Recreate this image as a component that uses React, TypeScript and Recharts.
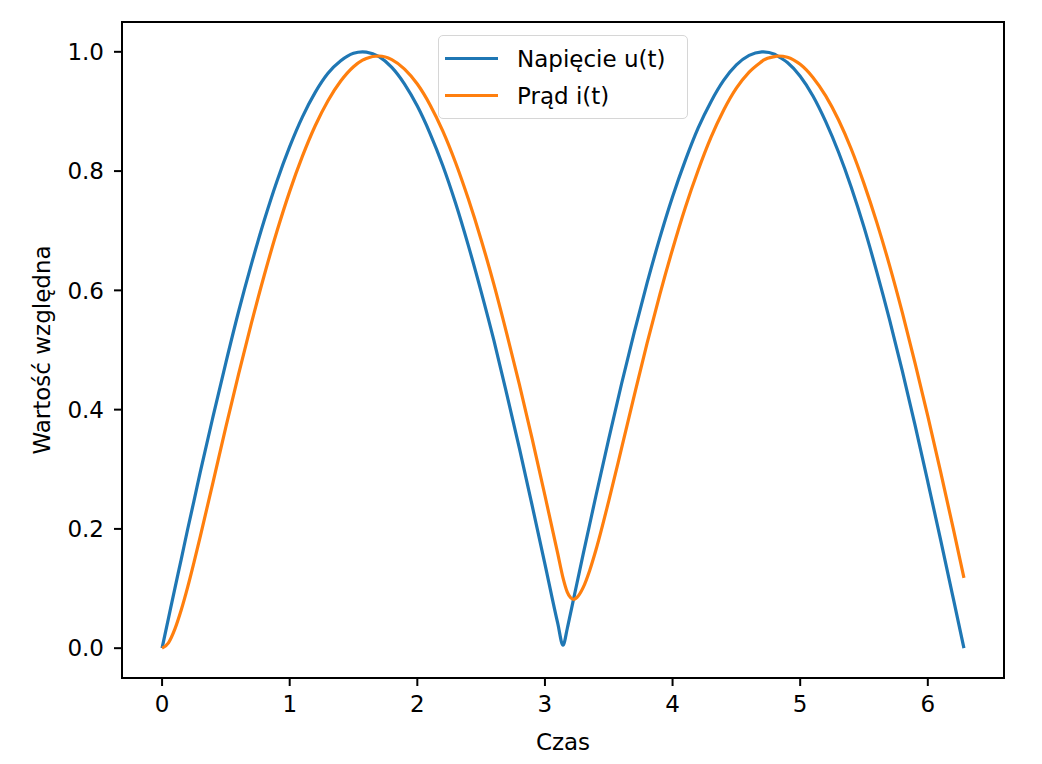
import { LineChart, Line, XAxis, YAxis, Legend, ReferenceArea } from 'recharts';

const times = [
  0, 0.05, 0.1, 0.15, 0.2, 0.25, 0.3,
  0.4, 0.5, 0.6, 0.7, 0.8, 0.9, 1.0, 1.1, 1.2, 1.3, 1.4, 1.5, 1.5708, 1.6, 1.7,
  1.8, 1.9, 2.0, 2.1, 2.2, 2.3, 2.4, 2.5, 2.6, 2.7, 2.8, 2.9, 3.0, 3.1,
  3.1416, 3.175, 3.2, 3.225, 3.25, 3.3, 3.35, 3.4,
  3.5, 3.6, 3.7, 3.8, 3.9, 4.0, 4.1, 4.2, 4.3, 4.4, 4.5, 4.6, 4.7, 4.7124, 4.8, 4.83,
  4.9, 5.0, 5.1, 5.2, 5.3, 5.4, 5.5, 5.6, 5.7, 5.8, 5.9, 6.0, 6.1, 6.2,
  6.2832,
];

const voltage = [
  0, 0.05, 0.1, 0.149, 0.199, 0.247, 0.296,
  0.389, 0.479, 0.565, 0.644, 0.717, 0.783, 0.841, 0.891, 0.932, 0.964, 0.985, 0.9975, 1.0, 0.9996, 0.992,
  0.974, 0.946, 0.909, 0.863, 0.809, 0.746, 0.675, 0.598, 0.516, 0.427, 0.335, 0.239, 0.141, 0.042,
  0.005, 0.033, 0.058, 0.083, 0.108, 0.158, 0.207, 0.256,
  0.351, 0.443, 0.53, 0.612, 0.688, 0.757, 0.818, 0.872, 0.916, 0.952, 0.978, 0.994, 0.9999, 1.0, 0.996, 0.992,
  0.982, 0.959, 0.926, 0.883, 0.832, 0.773, 0.706, 0.631, 0.551, 0.465, 0.374, 0.279, 0.182, 0.083,
  0.0,
];

const current = [
  0, 0.009, 0.032, 0.064, 0.102, 0.144, 0.188,
  0.279, 0.371, 0.46, 0.545, 0.625, 0.699, 0.766, 0.825, 0.876, 0.918, 0.951, 0.975, 0.986, 0.989, 0.993,
  0.987, 0.971, 0.946, 0.911, 0.867, 0.814, 0.753, 0.685, 0.61, 0.528, 0.442, 0.351, 0.256, 0.159,
  0.118, 0.094, 0.085, 0.082, 0.085, 0.102, 0.13, 0.165,
  0.247, 0.335, 0.424, 0.511, 0.593, 0.669, 0.739, 0.801, 0.856, 0.902, 0.939, 0.966, 0.984, 0.986, 0.992, 0.993,
  0.991, 0.979, 0.957, 0.926, 0.886, 0.837, 0.779, 0.714, 0.642, 0.563, 0.478, 0.389, 0.296, 0.2,
  0.118,
];

const xTicks = [0, 1, 2, 3, 4, 5, 6];
const yTicks = [0, 0.2, 0.4, 0.6, 0.8, 1.0];

const seriesNames = ['Napięcie u(t)', 'Prąd i(t)'];

const data = times.map((t, i) => ({ t, u: voltage[i], i: current[i] }));

const FONT = '"DejaVu Sans", sans-serif';
const xDomain = [-0.314, 6.597];
const yDomain = [-0.05, 1.05];

const renderLegend = (props: any) => {
  const { payload } = props;
  return (
    <div
      style={{
        border: '1.5px solid #d6d6d6',
        borderRadius: 5,
        background: 'rgba(255,255,255,0.8)',
        padding: '4px 22px 4px 6px',
        fontFamily: FONT,
        fontSize: 23,
        color: '#000',
      }}
    >
      {payload.map((entry: any) => (
        <div key={entry.value} style={{ display: 'flex', alignItems: 'center', height: 37 }}>
          <div style={{ width: 53, height: 3, background: entry.color, marginRight: 19 }} />
          <span>{entry.value}</span>
        </div>
      ))}
    </div>
  );
};

export default function App() {
  return (
    <div style={{ position: 'absolute', left: 0, top: 0, width: 1042, height: 764, background: '#fff' }}>
      <LineChart
        width={1042}
        height={764}
        data={data}
        margin={{ top: 22, right: 38, bottom: 0, left: 0 }}
        style={{ fontFamily: FONT }}
      >
        <ReferenceArea
          x1={xDomain[0]}
          x2={xDomain[1]}
          y1={yDomain[0]}
          y2={yDomain[1]}
          fill="none"
          stroke="#000"
          strokeWidth={2}
          ifOverflow="visible"
        />
        <XAxis
          dataKey="t"
          type="number"
          domain={xDomain}
          ticks={xTicks}
          allowDataOverflow
          height={86}
          stroke="#000"
          strokeWidth={2}
          tickSize={8}
          tickMargin={10}
          tick={{ fontSize: 23, fill: '#000' }}
          label={{ value: 'Czas', position: 'insideBottom', offset: 14, fontSize: 23, fill: '#000' }}
        />
        <YAxis
          type="number"
          domain={yDomain}
          ticks={yTicks}
          allowDataOverflow
          width={122}
          stroke="#000"
          strokeWidth={2}
          tickSize={8}
          tickMargin={10}
          tickFormatter={(v: number) => v.toFixed(1)}
          tick={{ fontSize: 23, fill: '#000' }}
          label={{
            value: 'Wartość względna',
            angle: -90,
            position: 'insideLeft',
            offset: 42,
            fontSize: 23,
            fill: '#000',
            textAnchor: 'middle',
          }}
        />
        <Legend
          layout="vertical"
          verticalAlign="middle"
          align="center"
          content={renderLegend}
          wrapperStyle={{ left: 438, top: 35, width: 'auto', height: 'auto' }}
        />
        <Line
          type="monotone"
          dataKey="u"
          name={seriesNames[0]}
          stroke="#1f77b4"
          strokeWidth={3.2}
          dot={false}
          activeDot={false}
          isAnimationActive={false}
        />
        <Line
          type="monotone"
          dataKey="i"
          name={seriesNames[1]}
          stroke="#ff7f0e"
          strokeWidth={3.2}
          dot={false}
          activeDot={false}
          isAnimationActive={false}
        />
      </LineChart>
    </div>
  );
}
